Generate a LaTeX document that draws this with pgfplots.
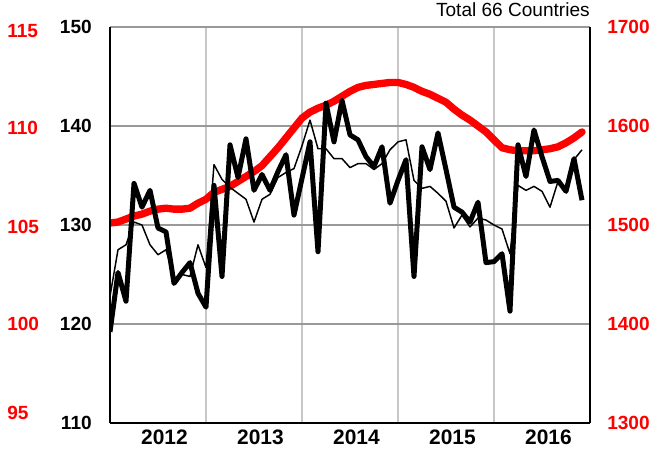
\documentclass[border=0pt]{standalone}
\usepackage{fontspec}
\setmainfont{Liberation Sans}
\usepackage{pgfplots}
\pgfplotsset{compat=1.18}
\usepackage{pgfplotstable}

% monthly series, 0 = Jan 2012
\pgfplotstableread{
m thick thin trend
0 119.2 122.8 1502
1 125.2 127.5 1503
2 122.3 128.0 1506
3 134.2 130.3 1509
4 131.8 130.0 1511
5 133.5 128.0 1514
6 129.7 127.0 1516
7 129.3 127.5 1517
8 124.1 124.6 1516
9 125.2 125.0 1516
10 126.2 124.8 1517
11 123.1 128.0 1522
12 121.7 125.7 1526
13 134.0 136.1 1533
14 124.8 134.6 1536
15 138.1 133.8 1539
16 134.8 133.2 1544
17 138.7 132.6 1549
18 133.5 130.3 1554
19 135.1 132.6 1560
20 133.5 133.1 1569
21 135.4 134.8 1578
22 137.1 135.3 1588
23 131.0 135.7 1598
24 134.7 138.0 1608
25 138.4 140.6 1614
26 127.3 137.7 1618
27 142.3 137.7 1621
28 138.4 136.7 1625
29 142.6 136.7 1630
30 139.1 135.8 1635
31 138.6 136.2 1639
32 136.9 136.2 1641
33 135.9 135.6 1642
34 137.9 136.2 1643
35 132.2 137.6 1644
36 134.5 138.4 1644
37 136.6 138.6 1642
38 124.8 134.5 1639
39 137.9 133.7 1635
40 135.6 133.9 1632
41 139.3 133.2 1628
42 135.6 132.4 1624
43 131.8 129.7 1617
44 131.3 131.0 1611
45 130.3 129.8 1606
46 132.3 130.7 1600
47 126.2 130.5 1594
48 126.3 130.0 1586
49 127.1 129.6 1578
50 121.3 127.1 1576
51 138.1 134.0 1575
52 134.9 133.5 1575
53 139.6 133.9 1575
54 136.9 133.4 1576
55 134.4 131.8 1577
56 134.5 134.4 1579
57 133.4 133.4 1583
58 136.7 136.6 1588
59 132.5 137.6 1594
}\series

\pgfplotsset{
  base/.style={scale only axis, width=360pt, height=297pt,
    xmin=0, xmax=60, major tick length=0pt, minor tick length=0pt,
    axis line style={-, line width=1pt, black},
    /pgf/number format/assume math mode=true,
    /pgf/number format/1000 sep={}},
}

\begin{document}
\begin{tikzpicture}
% red trend, right axis (drawn first so black lines lie over it)
\begin{axis}[base,
  ymin=1300, ymax=1700,
  axis y line*=right, axis x line*=bottom,
  xtick={12,24,36,48}, xticklabels={}, xmajorgrids,
  ytick={1300,1400,...,1700}, ymajorgrids,
  x grid style={black!22, line width=0.8pt},
  y grid style={black!40, line width=0.8pt},
  yticklabel style={font=\bfseries\fontsize{14.3}{16}\selectfont, text=red,
    anchor=west, inner sep=0pt, xshift=12.75pt}]
\addplot[red, line width=5.5pt, line join=round, line cap=round] table[x=m, y=trend] {\series};
\end{axis}

\begin{axis}[base, name=main,
  ymin=110, ymax=150,
  axis y line*=left, axis x line*=bottom,
  xtick={6.8,18.8,30.8,42.8,54.8},
  xticklabels={2012,2013,2014,2015,2016},
  ytick={110,120,...,150},
  yticklabel style={font=\bfseries\fontsize{14.3}{16}\selectfont,
    anchor=east, inner sep=0pt, xshift=-13.5pt},
  xticklabel style={font=\bfseries\fontsize{15.7}{18}\selectfont,
    anchor=north, inner sep=0pt, yshift=-5.25pt},
  title={Total 66 Countries},
  title style={at={(1,1)}, anchor=south east, inner sep=0pt, yshift=1.5pt,
    font=\fontsize{14.3}{16}\selectfont}]
\addplot[black, line width=1.1pt, line join=round] table[x=m, y=thin] {\series};
\addplot[black, line width=3.75pt, line join=round] table[x=m, y=thick] {\series};
\end{axis}

% red scale on the far left
\begin{axis}[base,
  ymin=95, ymax=115,
  axis y line*=left, axis x line=none,
  axis line style={draw=none},
  ytick={95.5,100,104.9,109.9,114.8},
  yticklabels={95,100,105,110,115},
  yticklabel style={font=\bfseries\fontsize{14.3}{16}\selectfont, text=red,
    anchor=west, inner sep=0pt, xshift=-77.25pt}]
\end{axis}

\pgfresetboundingbox
\path ([shift={(-82.5pt,-21.75pt)}]main.south west) rectangle ([shift={(51pt,20.25pt)}]main.north east);
\end{tikzpicture}
\end{document}
